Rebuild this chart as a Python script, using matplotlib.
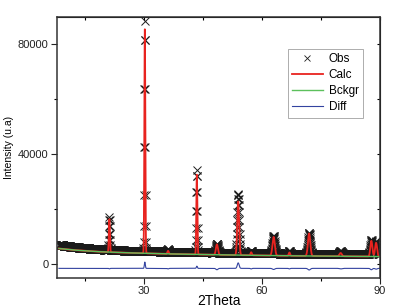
import numpy as np
import matplotlib
matplotlib.use("Agg")
import matplotlib.pyplot as plt

plt.rcParams['font.family'] = ['Liberation Sans', 'DejaVu Sans']

# Background control points (2Theta, intensity)
bg_x = [8, 12, 18, 25, 35, 50, 65, 80, 90]
bg_y = [5800, 5200, 4600, 4200, 3800, 3400, 3100, 2900, 2800]
# Observed baseline (slightly above refined background)
obs_base_y = [7200, 6300, 5500, 5000, 4600, 4200, 3900, 3700, 3600]

# Peaks: centre, observed net height, calculated net height, FWHM
peak_pos = [21.3, 30.3, 36.2, 43.5, 48.6, 54.0, 57.3, 63.0, 67.0, 72.0, 80.0, 87.8, 89.0]
peak_obs = [11800, 83800, 900, 29800, 3300, 21500, 900, 6400, 1000, 7600, 1000, 5200, 4700]
peak_calc = [12000, 81500, 1100, 29000, 3800, 19500, 1100, 6800, 1200, 8200, 1200, 5700, 5000]
peak_fwhm = [0.30, 0.28, 0.4, 0.30, 0.6, 0.55, 0.4, 0.7, 0.4, 0.7, 0.7, 0.6, 0.6]

diff_offset = -1500

x = np.arange(8.5, 90.0, 0.05)
bg = np.interp(x, bg_x, bg_y)
obs_base = np.interp(x, bg_x, obs_base_y)

def profile(heights):
    y = np.zeros_like(x)
    for c, h, w in zip(peak_pos, heights, peak_fwhm):
        s = w / 2.3548
        y += h * np.exp(-0.5 * ((x - c) / s) ** 2)
    return y

obs = obs_base + profile(peak_obs)
calc = bg + profile(peak_calc)
diff = profile(peak_obs) - profile(peak_calc) + diff_offset

fig = plt.figure(figsize=(3.93, 3.07), dpi=100)
ax = fig.add_axes([0.145, 0.0945, 0.822, 0.8505])

ax.plot(x, obs, linestyle='none', marker='x', color='#1a1a1a', markersize=5.5,
        markeredgewidth=0.7, label='Obs')
ax.plot(x, calc, color='#e8231f', lw=1.3, label='Calc')
ax.plot(x, bg, color='#5cc05c', lw=1.0, label='Bckgr')
ax.plot(x, diff, color='#3343a0', lw=0.8, label='Diff')

ax.set_xlim(8, 90)
ax.set_ylim(-5000, 90000)
ax.set_xticks([30, 60, 90])
ax.set_xticks([15, 45, 75], minor=True)
ax.set_yticks([0, 40000, 80000])
ax.set_yticks([20000, 60000], minor=True)
ax.tick_params(axis='both', which='major', direction='out', length=4, width=0.8,
               labelsize=8, colors='#222222', pad=2)
ax.tick_params(axis='both', which='minor', direction='out', length=2.5, width=0.8)

for sp in ax.spines.values():
    sp.set_linewidth(1.1)
    sp.set_color('#333333')

sec_x = ax.secondary_xaxis('top')
sec_x.set_xticks([30, 60, 90])
sec_x.set_xticks([15, 45, 75], minor=True)
sec_x.tick_params(which='both', direction='in', length=2.5, width=0.8, labeltop=False)
sec_x.set_xticklabels([])
sec_y = ax.secondary_yaxis('right')
sec_y.set_yticks([0, 40000, 80000])
sec_y.set_yticks([20000, 60000], minor=True)
sec_y.tick_params(which='both', direction='in', length=2.5, width=0.8, labelright=False)
sec_y.set_yticklabels([])

ax.set_xlabel('2Theta', fontsize=10, labelpad=-1.5)
ax.set_ylabel('Intensity (u.a)', fontsize=7.5, labelpad=3)

leg = ax.legend(loc='upper right', bbox_to_anchor=(0.965, 0.90), fontsize=8.5,
                frameon=True, fancybox=False, edgecolor='#888888',
                handlelength=2.6, handletextpad=0.5, borderpad=0.35,
                labelspacing=0.35)
leg.get_frame().set_linewidth(0.6)
leg.legend_handles[0].set_markersize(5)
leg.legend_handles[0].set_markeredgewidth(0.6)

fig.savefig('out.png', dpi=100)
